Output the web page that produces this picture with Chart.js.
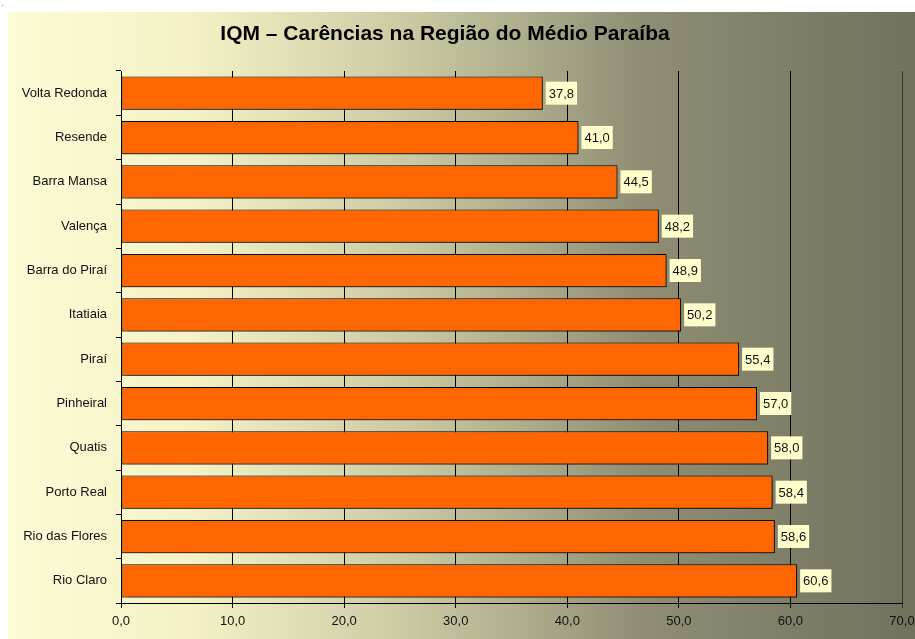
<!DOCTYPE html>
<html>
<head>
<meta charset="utf-8">
<script src="https://cdn.jsdelivr.net/npm/chart.js@4/dist/chart.umd.min.js"></script>
<style>
html,body{margin:0;padding:0;background:#fff;}
#wrap{position:absolute;left:0;top:0;width:915px;height:639px;}
</style>
</head>
<body>
<div id="wrap"><canvas id="c" width="915" height="639"></canvas></div>
<script>
const titleText = "IQM – Carências na Região do Médio Paraíba";
const categories = ["Volta Redonda","Resende","Barra Mansa","Valença","Barra do Piraí","Itatiaia","Piraí","Pinheiral","Quatis","Porto Real","Rio das Flores","Rio Claro"];
const values = [37.8, 41.0, 44.5, 48.2, 48.9, 50.2, 55.4, 57.0, 58.0, 58.4, 58.6, 60.6];
const xMin = 0, xMax = 70, xStep = 10;

const fmt = v => v.toFixed(1).replace('.', ',');
const FONT = "'Liberation Sans', Arial, sans-serif";

const bgPlugin = {
  id: 'bg',
  beforeDraw(chart) {
    const ctx = chart.ctx;
    const x0 = 8, y0 = 12, x1 = chart.width, y1 = chart.height;
    const g = ctx.createLinearGradient(x0, 0, x1, 0);
    g.addColorStop(0, '#FCFCD6');
    g.addColorStop(0.2, '#F4F2C6');
    g.addColorStop(0.45, '#C9C8A2');
    g.addColorStop(0.7, '#8F8E74');
    g.addColorStop(1, '#71715E');
    ctx.save();
    ctx.fillStyle = g;
    ctx.fillRect(x0, y0, x1 - x0, y1 - y0);
    ctx.fillStyle = '#888';
    ctx.fillRect(2, 5, 1, 1);
    ctx.fillStyle = '#000';
    ctx.font = "bold 21px " + FONT;
    ctx.textAlign = 'center';
    ctx.textBaseline = 'alphabetic';
    ctx.fillText(titleText, 445, 40);
    ctx.restore();
  }
};

const shadowPlugin = {
  id: 'shadow',
  beforeDatasetsDraw(chart) {
    const ctx = chart.ctx;
    ctx.save();
    ctx.shadowColor = 'rgba(0,0,0,0.45)';
    ctx.shadowOffsetX = 1.5;
    ctx.shadowOffsetY = 1.5;
    ctx.shadowBlur = 1;
  },
  afterDatasetsDraw(chart) {
    chart.ctx.restore();
  }
};

const labelPlugin = {
  id: 'vlabels',
  afterDatasetsDraw(chart) {
    const ctx = chart.ctx;
    const meta = chart.getDatasetMeta(0);
    ctx.save();
    ctx.font = "13px " + FONT;
    meta.data.forEach((bar, i) => {
      const txt = fmt(values[i]);
      const w = ctx.measureText(txt).width;
      const bx = bar.x + 3, by = bar.y - 11.5;
      const bw = w + 6, bh = 23;
      ctx.fillStyle = '#FFFFCC';
      ctx.fillRect(bx, by, bw, bh);
      ctx.fillStyle = '#111';
      ctx.textAlign = 'left';
      ctx.textBaseline = 'middle';
      ctx.fillText(txt, bx + 3, bar.y + 1);
    });
    ctx.restore();
  }
};

new Chart(document.getElementById('c'), {
  type: 'bar',
  data: {
    labels: categories,
    datasets: [{
      data: values,
      backgroundColor: '#FF6600',
      borderColor: '#000000',
      borderWidth: 1,
      borderSkipped: false,
      categoryPercentage: 0.75,
      barPercentage: 1.0
    }]
  },
  options: {
    indexAxis: 'y',
    responsive: false,
    animation: false,
    devicePixelRatio: 1,
    layout: { padding: { left: 0, top: 71, right: 13, bottom: 0 } },
    plugins: { legend: { display: false }, tooltip: { enabled: false }, title: { display: false } },
    scales: {
      x: {
        min: xMin, max: xMax,
        ticks: { stepSize: xStep, color: '#111', font: { family: FONT, size: 13 }, padding: 6, callback: v => fmt(v) },
        grid: { color: c => (c.tick && c.tick.value === xMax ? '#333' : '#000'), lineWidth: 1, tickLength: 5, drawTicks: true },
        border: { display: true, color: '#000', width: 1 },
        afterFit(s) { s.height = 36; s.paddingLeft = 0; s.paddingRight = 0; }
      },
      y: {
        ticks: { color: '#111', font: { family: FONT, size: 13 }, padding: 9 },
        grid: { offset: true, drawOnChartArea: false, drawTicks: true, tickLength: 5, color: '#000' },
        border: { display: true, color: '#000', width: 1 },
        afterFit(s) { s.width = 121; s.paddingTop = 0; s.paddingBottom = 0; }
      }
    }
  },
  plugins: [bgPlugin, shadowPlugin, labelPlugin]
});
</script>
</body>
</html>
